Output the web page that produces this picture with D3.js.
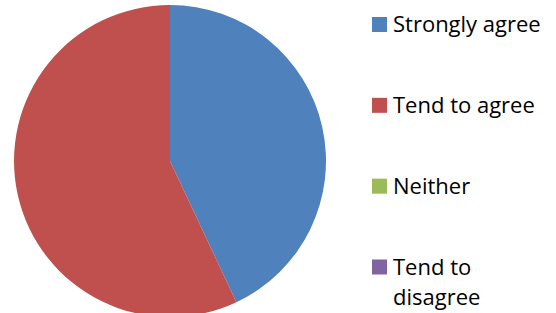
<!DOCTYPE html>
<html>
<head>
<meta charset="utf-8">
<script src="https://cdn.jsdelivr.net/npm/d3@7"></script>
<style>
html,body{margin:0;padding:0;background:#fff;}
svg{display:block;}
</style>
</head>
<body>
<svg id="chart" width="556" height="313"></svg>
<script>
const categories = ["Strongly agree", "Tend to agree", "Neither", "Tend to disagree"];
const values = [43, 57, 0, 0];
const colors = ["#4F81BD", "#C0504D", "#9BBB59", "#8064A2"];
const legendLines = [["Strongly agree"], ["Tend to agree"], ["Neither"], ["Tend to", "disagree"]];

const svg = d3.select("#chart");
const cx = 170, cy = 161, r = 156;

const data = categories.map((c, i) => ({ cat: c, value: values[i], color: colors[i] }));
const pie = d3.pie().value(d => d.value).sort(null);
const arc = d3.arc().innerRadius(0).outerRadius(r);

svg.append("g").attr("transform", `translate(${cx},${cy})`)
  .selectAll("path").data(pie(data)).join("path")
  .attr("d", arc).attr("fill", d => d.data.color);

const legendY = d3.scalePoint().domain(categories).range([24.5, 267]);
const lg = svg.append("g").attr("font-family", "'Open Sans', sans-serif").attr("font-size", 22).attr("fill", "#000");
categories.forEach((c, i) => {
  const y = legendY(c);
  lg.append("rect").attr("x", 372).attr("y", y - 7.5).attr("width", 15).attr("height", 15).attr("fill", colors[i]);
  const t = lg.append("text").attr("x", 393).attr("y", y + 7.5);
  legendLines[i].forEach((ln, j) => {
    t.append("tspan").attr("x", 393).attr("dy", j === 0 ? 0 : 30).text(ln);
  });
});
</script>
</body>
</html>
